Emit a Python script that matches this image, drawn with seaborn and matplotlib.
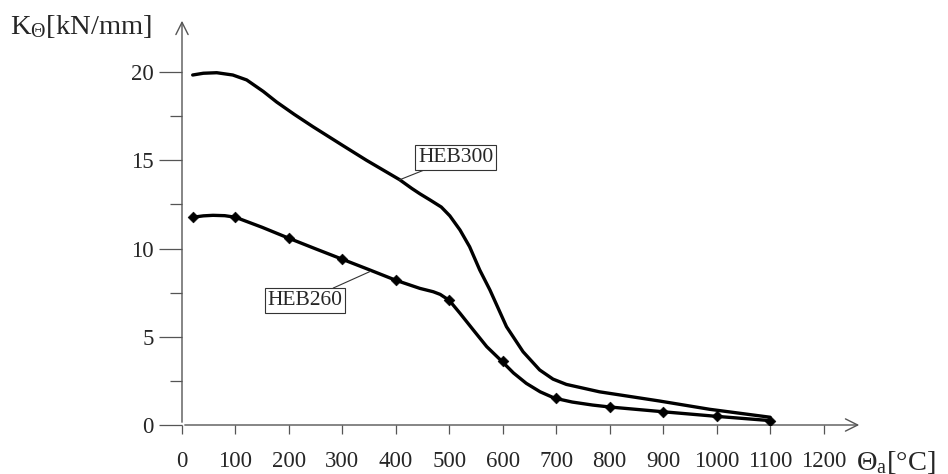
import pandas as pd
import seaborn as sns
import matplotlib.pyplot as plt

# Werte
heb300_temp = [20, 40, 65, 95, 121, 152, 177, 210, 245, 300, 345, 407, 430, 445, 464, 485, 501, 520, 538,
               557, 576, 607, 638, 669, 694, 719, 781, 850, 893, 987, 1100]
heb300_k = [19.83, 19.93, 19.96, 19.83, 19.55, 18.9, 18.3, 17.6, 16.9, 15.85, 15.0, 13.9, 13.4, 13.1, 12.75,
            12.35, 11.85, 11.05, 10.1, 8.78, 7.65, 5.57, 4.15, 3.12, 2.6, 2.3, 1.88, 1.56, 1.36, 0.89, 0.44]

heb260_temp = [20, 100, 200, 300, 400, 500, 600, 700, 800, 900, 1000, 1100]
heb260_k = [11.77, 11.77, 10.58, 9.39, 8.2, 7.08, 3.62, 1.52, 1.02, 0.75, 0.49, 0.25]

heb260_curve_temp = [20, 40, 58, 80, 100, 150, 200, 250, 300, 350, 400, 445, 470, 483, 500, 520, 545, 570,
                     598, 620, 644, 670, 697, 730, 768, 800, 900, 1000, 1100]
heb260_curve_k = [11.77, 11.85, 11.88, 11.86, 11.77, 11.2, 10.58, 9.98, 9.39, 8.8, 8.2, 7.74, 7.55, 7.4, 7.06,
                  6.33, 5.38, 4.44, 3.62, 2.95, 2.36, 1.88, 1.52, 1.3, 1.13, 1.02, 0.75, 0.49, 0.25]

x_ticks = list(range(0, 1300, 100))
y_ticks = [0, 5, 10, 15, 20]
y_minor = [2.5, 7.5, 12.5, 17.5]

sns.set_style('white')
plt.rcParams['font.family'] = ['Liberation Serif', 'DejaVu Serif']
plt.rcParams['mathtext.fontset'] = 'custom'
plt.rcParams['mathtext.rm'] = 'Liberation Serif'
plt.rcParams['mathtext.it'] = 'Liberation Serif:italic'

fig = plt.figure(figsize=(9.48, 4.74), dpi=100)
ax = fig.add_axes([182 / 948, 49 / 474, 680 / 948, 407 / 474])

df300 = pd.DataFrame({'temp': heb300_temp, 'k': heb300_k})
df260c = pd.DataFrame({'temp': heb260_curve_temp, 'k': heb260_curve_k})
df260 = pd.DataFrame({'temp': heb260_temp, 'k': heb260_k})

sns.lineplot(data=df300, x='temp', y='k', sort=False, estimator=None, color='black', linewidth=2.4, ax=ax)
sns.lineplot(data=df260c, x='temp', y='k', sort=False, estimator=None, color='black', linewidth=2.4, ax=ax)
sns.scatterplot(data=df260, x='temp', y='k', marker='D', s=30, color='black', edgecolor='black', ax=ax, zorder=5)

ax.set_xlim(0, 1272)
ax.set_ylim(0, 23.06)
for s in ax.spines.values():
    s.set_visible(False)

axis_col = '#555555'
ax.annotate('', xy=(1, 0), xytext=(0, 0), xycoords='axes fraction',
            arrowprops=dict(arrowstyle='->', color=axis_col, lw=1.0, mutation_scale=22))
ax.annotate('', xy=(0, 1), xytext=(0, 0), xycoords='axes fraction',
            arrowprops=dict(arrowstyle='->', color=axis_col, lw=1.0, mutation_scale=22))

ax.set_xticks(x_ticks)
ax.set_xticklabels([str(t) for t in x_ticks], fontsize=16.5)
ax.set_yticks(y_ticks)
ax.set_yticklabels([str(t) for t in y_ticks], fontsize=16.5)
ax.set_yticks(y_minor, minor=True)
ax.tick_params(axis='x', direction='out', length=6.5, width=0.9, color=axis_col, pad=12, bottom=True)
ax.tick_params(axis='y', which='major', direction='out', length=16.5, width=0.9, color=axis_col, pad=4, left=True)
ax.tick_params(axis='y', which='minor', direction='out', length=8.5, width=0.9, color=axis_col, left=True)
ax.set_xlabel('')
ax.set_ylabel('')

fig.text(10 / 948, 1 - 26 / 474, r'K$_{\Theta}$[kN/mm]', fontsize=20.5, va='center', ha='left')
fig.text(856 / 948, 1 - 462 / 474, r'$\Theta_{\mathrm{a}}$[°C]', fontsize=20.5, va='center', ha='left')

box = dict(boxstyle='square,pad=0.12', facecolor='white', edgecolor='#333333', linewidth=0.8)
ax.annotate('HEB300', xy=(406, 13.88), xytext=(441.5, 14.62), fontsize=15.5, ha='left', va='bottom',
            bbox=box, arrowprops=dict(arrowstyle='-', color='#333333', lw=0.8, shrinkA=0, shrinkB=0))
ax.annotate('HEB260', xy=(352, 8.70), xytext=(301, 7.59), fontsize=15.5, ha='right', va='top',
            bbox=box, arrowprops=dict(arrowstyle='-', color='#333333', lw=0.8, shrinkA=0, shrinkB=0))

plt.savefig('out.png', dpi=100)
plt.close()
